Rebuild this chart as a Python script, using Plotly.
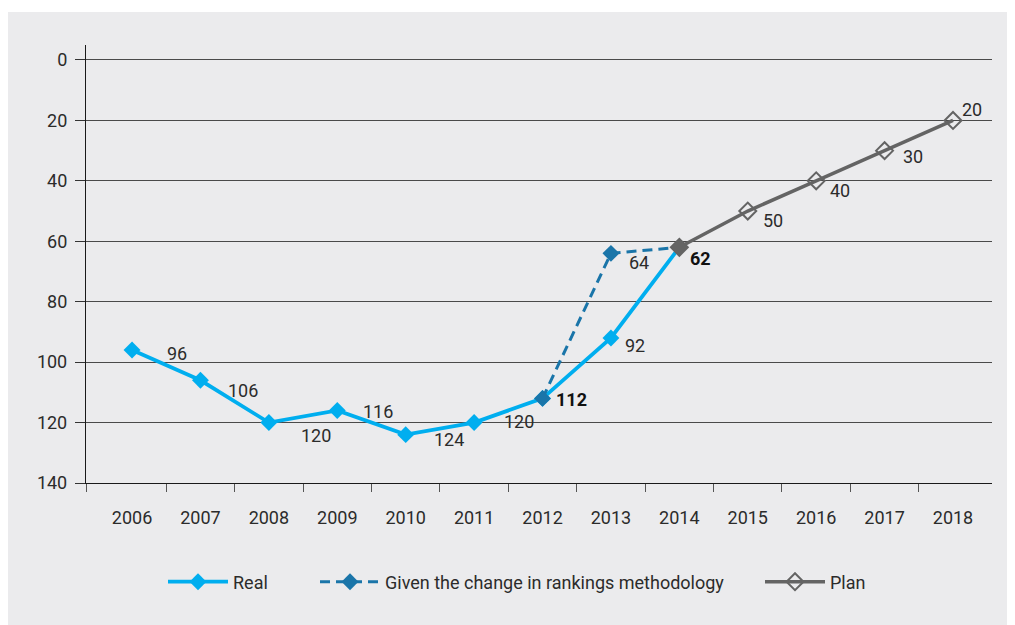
import plotly.graph_objects as go

years = list(range(2006, 2019))

real_years = [2006, 2007, 2008, 2009, 2010, 2011, 2012, 2013, 2014]
real_vals = [96, 106, 120, 116, 124, 120, 112, 92, 62]

given_years = [2012, 2013, 2014]
given_vals = [112, 64, 62]

plan_years = [2014, 2015, 2016, 2017, 2018]
plan_vals = [62, 50, 40, 30, 20]

# value labels
label_years = [2006, 2007, 2008, 2009, 2010, 2011, 2012, 2013, 2013, 2014, 2015, 2016, 2017, 2018]
label_vals = [96, 106, 120, 116, 124, 120, 112, 92, 64, 62, 50, 40, 30, 20]
label_bold = [False]*6 + [True, False, False, True] + [False]*4
# pixel offsets of each label from its point (x right, y down)
label_offsets = [(45, 3), (43, 10), (47, 13), (41, 1), (43, 5), (45, -1), (29, 1),
                 (24, 8), (28, 9), (21, 11), (25, 9), (24, 10), (28, 6), (19, -11)]

FONT = "Roboto, sans-serif"
BG = "#ebebed"
C_REAL = "#00aeef"
C_GIVEN = "#1a75a9"
C_PLAN = "#646464"
TXT = "#2b2b2b"

fig = go.Figure()

fig.add_trace(go.Scatter(
    x=real_years, y=real_vals, name="Real", mode="lines+markers", legend="legend",
    line=dict(color=C_REAL, width=3.8),
    marker=dict(symbol="diamond", size=13, color=C_REAL),
))
fig.add_trace(go.Scatter(
    x=given_years, y=given_vals, name="Given the change in rankings methodology",
    mode="lines+markers", legend="legend2",
    line=dict(color=C_GIVEN, width=3, dash="10px,6px"),
    marker=dict(symbol="diamond", size=13, color=C_GIVEN),
))
fig.add_trace(go.Scatter(
    x=plan_years, y=plan_vals, name="Plan", mode="lines+markers", legend="legend3",
    line=dict(color=C_PLAN, width=3.5),
    marker=dict(symbol="diamond-open", size=13, color=C_PLAN, line=dict(color=C_PLAN, width=2)),
))
# the 2014 plan point is drawn filled
fig.add_trace(go.Scatter(
    x=plan_years[:1], y=plan_vals[:1], mode="markers", showlegend=False, hoverinfo="skip",
    marker=dict(symbol="diamond", size=13, color=C_PLAN),
))

for yr, v, b, (dx, dy) in zip(label_years, label_vals, label_bold, label_offsets):
    fig.add_annotation(
        x=yr, y=v, text=f"<b>{v}</b>" if b else str(v), showarrow=False,
        xshift=dx, yshift=-dy,
        font=dict(family=FONT, size=18, color="#111111" if b else TXT),
    )

# figure sits at page offset (8, 8)
W, H = 1007, 617
ml, mr, mt, mb = 78, 23, 37, 142
pw, ph = W - ml - mr, H - mt - mb
# white strip above the grey panel
fig.add_shape(type="rect", xref="paper", yref="paper", layer="below",
              x0=(0 - ml) / pw - 0.01, x1=(W - ml) / pw + 0.01,
              y0=(H - mb - 4) / ph, y1=(H - mb + 2) / ph,
              fillcolor="white", line=dict(width=0))


def lx(page_px):
    return (page_px - 8 - ml) / pw


leg_common = dict(orientation="h", xanchor="left", y=-0.226, yanchor="middle",
                  bgcolor="rgba(0,0,0,0)", borderwidth=0, itemwidth=60,
                  font=dict(family=FONT, size=18, color=TXT))

fig.update_layout(
    width=W, height=H,
    margin=dict(l=ml, r=mr, t=mt, b=mb),
    paper_bgcolor=BG, plot_bgcolor="rgba(0,0,0,0)",
    font=dict(family=FONT, size=18, color=TXT),
    showlegend=True,
    legend=dict(x=lx(163), **leg_common),
    legend2=dict(x=lx(315), **leg_common),
    legend3=dict(x=lx(760), **leg_common),
    xaxis=dict(
        range=[2005.327, 2018.57], tickmode="array", tickvals=years,
        ticktext=[str(y) for y in years],
        ticks="outside", ticklen=9, tickcolor="rgba(0,0,0,0)",
        ticklabelstandoff=9,
        showgrid=False, zeroline=False,
        showline=True, linecolor="#1a1a1a", linewidth=1.3,
        tickfont=dict(family=FONT, size=18, color=TXT),
        minor=dict(tickmode="array", tickvals=[2005.327] + [y + 0.5 for y in years[:-1]],
                   ticks="outside", ticklen=8, tickcolor="#555555", tickwidth=1.3,
                   showgrid=False),
    ),
    yaxis=dict(
        range=[140, -4.96], tickmode="array", tickvals=list(range(0, 141, 20)),
        ticks="outside", ticklen=10, tickcolor="#333333", tickwidth=1.2,
        showgrid=True, gridcolor="#4a4a4a", gridwidth=1,
        zeroline=False, showline=True, linecolor="#1a1a1a", linewidth=1.3,
        ticklabelstandoff=4,
        tickfont=dict(family=FONT, size=18, color=TXT),
    ),
)

fig.write_html("out.html")
